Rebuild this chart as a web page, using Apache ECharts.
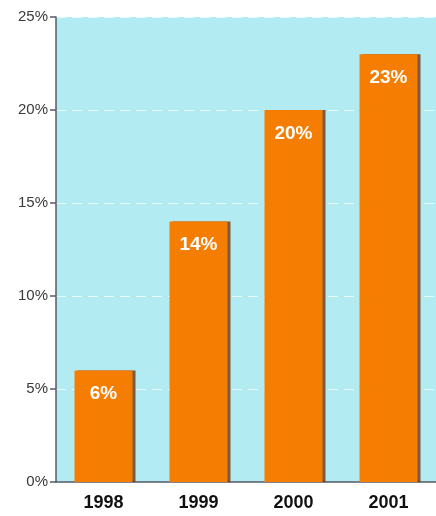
<!DOCTYPE html>
<html>
<head>
<meta charset="utf-8">
<script src="https://cdn.jsdelivr.net/npm/echarts@6/dist/echarts.min.js"></script>
<style>
  html, body { margin: 0; padding: 0; background: #fff; }
  #chart { width: 436px; height: 516px; }
</style>
</head>
<body>
<div id="chart"></div>
<script>
// data
const years = ['1998', '1999', '2000', '2001']
const shares = [6, 14, 20, 23]
const yTicks = [0, 5, 10, 15, 20, 25]

const myChart = echarts.init(document.getElementById('chart'))

const option = {
  animation: false,
  grid: {
    left: 56,
    right: -2,
    top: 17,
    bottom: 34,
    show: true,
    backgroundColor: '#b3ebf2',
    borderWidth: 0
  },
  xAxis: {
    type: 'category',
    data: years,
    axisLine: { show: true, lineStyle: { color: '#555b66', width: 1.5 } },
    axisTick: { show: false },
    axisLabel: {
      color: '#111',
      fontFamily: 'Liberation Sans',
      fontWeight: 'bold',
      fontSize: 18,
      margin: 12
    }
  },
  yAxis: {
    type: 'value',
    min: yTicks[0],
    max: yTicks[yTicks.length - 1],
    interval: 5,
    axisLine: { show: true, lineStyle: { color: '#555b66', width: 1.5 } },
    axisTick: { show: true, inside: false, length: 6, lineStyle: { color: '#555b66', width: 1.5 } },
    splitLine: {
      show: true,
      lineStyle: { color: 'rgba(255,255,255,0.7)', type: [10, 6], width: 1 }
    },
    axisLabel: {
      color: '#3a3a3a',
      fontFamily: 'Liberation Sans',
      fontSize: 15,
      margin: 8,
      formatter: val => val + '%'
    }
  },
  series: [{
    type: 'bar',
    data: shares,
    barWidth: 58,
    itemStyle: {
      color: '#f57e02',
      shadowColor: 'rgba(110,40,0,0.75)',
      shadowOffsetX: 3,
      shadowOffsetY: 0,
      shadowBlur: 0
    },
    label: {
      show: true,
      position: 'insideTop',
      distance: 14,
      color: '#fff',
      fontFamily: 'Liberation Sans',
      fontWeight: 'bold',
      fontSize: 19,
      formatter: p => p.value + '%'
    }
  }]
}

myChart.setOption(option)
</script>
</body>
</html>
